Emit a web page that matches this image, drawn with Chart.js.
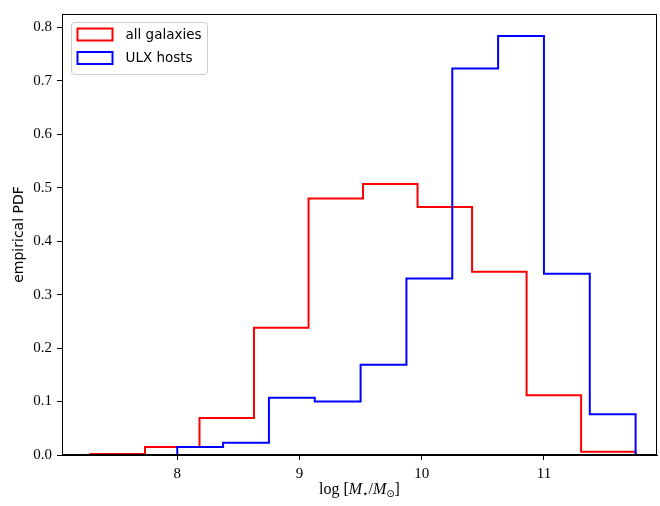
<!DOCTYPE html>
<html>
<head>
<meta charset="utf-8">
<script src="https://cdn.jsdelivr.net/npm/chart.js@4.4.1/dist/chart.umd.min.js"></script>
<style>
html, body { margin: 0; padding: 0; background: #fff; }
#wrap { width: 660px; height: 506px; }
</style>
</head>
<body>
<div id="wrap"><canvas id="pdf_chart" width="660" height="506"></canvas></div>
<script>
// bin edges and heights
var redLabel = "all galaxies";
var redEdges = [7.29, 7.736, 8.182, 8.628, 9.074, 9.52, 9.966, 10.412, 10.858, 11.304, 11.75];
var redValues = [0.002, 0.015, 0.069, 0.238, 0.480, 0.507, 0.464, 0.343, 0.112, 0.006];

var blueLabel = "ULX hosts";
var blueEdges = [8.0, 8.375, 8.75, 9.125, 9.5, 9.875, 10.25, 10.625, 11.0, 11.375, 11.75];
var blueValues = [0.015, 0.023, 0.107, 0.100, 0.169, 0.330, 0.723, 0.784, 0.339, 0.076];

var xTicks = [8, 9, 10, 11];
var xTickLabels = ["8", "9", "10", "11"];
var yTicks = [0, 0.1, 0.2, 0.3, 0.4, 0.5, 0.6, 0.7, 0.8];
var yTickLabels = ["0.0", "0.1", "0.2", "0.3", "0.4", "0.5", "0.6", "0.7", "0.8"];

var serif = "'Liberation Serif', 'DejaVu Serif', serif";
var sans = "'DejaVu Sans', sans-serif";

// outline of a step histogram: up from 0, across each bin, back down to 0
function stepPoints(edges, values) {
    var pts = [{x: edges[0], y: 0}];
    for (var i = 0; i < values.length; i++) {
        pts.push({x: edges[i], y: values[i]});
    }
    pts.push({x: edges[edges.length - 1], y: values[values.length - 1]});
    pts.push({x: edges[edges.length - 1], y: 0});
    return pts;
}

var framePlugin = {
    id: "frame",
    afterDraw: function(chart) {
        var ctx = chart.ctx;
        var a = chart.chartArea;
        ctx.save();
        ctx.strokeStyle = "#000";
        ctx.lineWidth = 1;
        ctx.strokeRect(Math.round(a.left) + 0.5, Math.round(a.top) + 0.5,
            Math.round(a.right - a.left) - 1, Math.round(a.bottom - a.top) - 1);

        // legend, matplotlib style, inside the upper left corner
        var bx = a.left + 9.5, by = a.top + 8.5, bw = 136, bh = 52;
        ctx.beginPath();
        ctx.roundRect(bx, by, bw, bh, 3);
        ctx.fillStyle = "rgba(255,255,255,0.8)";
        ctx.fill();
        ctx.strokeStyle = "#cccccc";
        ctx.stroke();
        ctx.font = "13.5px " + sans;
        ctx.textBaseline = "middle";
        ctx.textAlign = "left";
        chart.data.datasets.forEach(function(ds, i) {
            var py = by + 6 + i * 23.5;
            ctx.strokeStyle = ds.borderColor;
            ctx.lineWidth = 2;
            ctx.strokeRect(bx + 6, py, 35, 12);
            ctx.fillStyle = "#000";
            ctx.fillText(ds.label, bx + 54, py + 6.5);
        });

        // x axis title with math italics
        var parts = [
            ["log", "16px " + serif, 0],
            [" [", "16px " + serif, 0],
            ["M", "italic 16px " + serif, 0],
            ["\u22c6", "10px " + sans, 3],
            ["/", "16px " + serif, 0],
            ["M", "italic 16px " + serif, 0],
            ["\u2299", "10px " + sans, 3],
            ["]", "16px " + serif, 0]
        ];
        var total = 0;
        parts.forEach(function(p) {
            ctx.font = p[1];
            p.push(ctx.measureText(p[0]).width);
            total += p[3];
        });
        var x = (a.left + a.right) / 2 - total / 2;
        ctx.fillStyle = "#000";
        ctx.textBaseline = "alphabetic";
        parts.forEach(function(p) {
            ctx.font = p[1];
            ctx.fillText(p[0], x, 494 + p[2]);
            x += p[3];
        });
        ctx.restore();
    }
};

new Chart("pdf_chart", {
    type: "line",
    data: {
        datasets: [{
                label: redLabel,
                data: stepPoints(redEdges, redValues),
                borderColor: "#ff0000",
                backgroundColor: "#ff0000",
                borderWidth: 2,
                stepped: "before",
                pointRadius: 0,
                fill: false,
                order: 1
            },
            {
                label: blueLabel,
                data: stepPoints(blueEdges, blueValues),
                borderColor: "#0000ff",
                backgroundColor: "#0000ff",
                borderWidth: 2,
                stepped: "before",
                pointRadius: 0,
                fill: false,
                order: 0
            }
        ]
    },
    options: {
        responsive: false,
        animation: false,
        layout: {
            padding: {top: 7, right: 3, left: 0, bottom: 0}
        },
        plugins: {
            legend: {display: false},
            tooltip: {enabled: false}
        },
        scales: {
            x: {
                type: "linear",
                min: 7.057,
                max: 11.925,
                afterBuildTicks: function(s) {
                    s.ticks = xTicks.map(function(v) { return {value: v}; });
                },
                afterFit: function(s) { s.height = 51; },
                ticks: {
                    color: "#000",
                    font: {family: serif, size: 15},
                    padding: 5,
                    maxRotation: 0,
                    callback: function(v) { return xTickLabels[xTicks.indexOf(v)]; }
                },
                grid: {
                    drawOnChartArea: false,
                    color: "#000",
                    tickLength: 5
                },
                border: {color: "#000"}
            },
            y: {
                min: 0,
                max: 0.825,
                afterBuildTicks: function(s) {
                    s.ticks = yTicks.map(function(v) { return {value: v}; });
                },
                afterFit: function(s) { s.width = 62; },
                ticks: {
                    color: "#000",
                    font: {family: serif, size: 15},
                    padding: 5,
                    callback: function(v) { return yTickLabels[yTicks.indexOf(v)]; }
                },
                grid: {
                    drawOnChartArea: false,
                    color: "#000",
                    tickLength: 5
                },
                border: {color: "#000"},
                title: {
                    display: true,
                    text: "empirical PDF",
                    color: "#000",
                    font: {family: sans, size: 14},
                    padding: {top: 11, bottom: 0}
                }
            }
        }
    },
    plugins: [framePlugin]
});
</script>
</body>
</html>
